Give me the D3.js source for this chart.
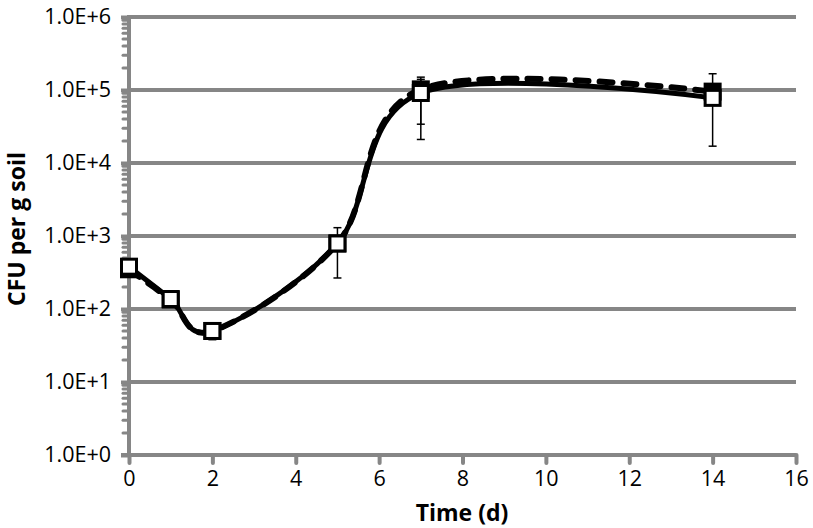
<!DOCTYPE html>
<html>
<head>
<meta charset="utf-8">
<script src="https://cdn.jsdelivr.net/npm/d3@7"></script>
<style>
  html, body { margin: 0; padding: 0; background: #fff; }
  svg { display: block; }
  text { font-family: "Open Sans", "Noto Sans", sans-serif; fill: #000; }
</style>
</head>
<body>
<svg id="chart" width="813" height="528"></svg>
<script>
// ---- data ----
const days = [0, 1, 2, 5, 7, 14];
const seriesOpen = [380, 137, 50, 790, 91000, 78000];      // solid line, open squares
const seriesFilled = [350, 135, 50, 790, 102000, 95000];   // dashed line, filled squares
const errOpenLow  = [null, null, 38, 266, 21000, 17000];
const errOpenHigh = [null, null, null, 1300, 150000, 167000];
const errFilledLow  = [null, null, null, null, 34000, null];
const errFilledHigh = [null, null, null, null, 140000, null];
const yTickValues = [1, 10, 100, 1000, 10000, 100000, 1000000];
const yTickLabels = ["1.0E+0", "1.0E+1", "1.0E+2", "1.0E+3", "1.0E+4", "1.0E+5", "1.0E+6"];
const xTickValues = [0, 2, 4, 6, 8, 10, 12, 14, 16];
const xTitle = "Time (d)";
const yTitle = "CFU per g soil";

// ---- layout ----
const svg = d3.select("#chart");
const pL = 129, pR = 796, pT = 17, pB = 455;
const gray = "#868686";

const x = d3.scaleLinear().domain([0, 16]).range([pL, pR]);
const y = d3.scaleLog().domain([1, 1e6]).range([pB, pT]);

// gridlines
svg.append("g").selectAll("line")
  .data(yTickValues.slice(1))
  .join("line")
  .attr("x1", pL).attr("x2", pR)
  .attr("y1", d => y(d)).attr("y2", d => y(d))
  .attr("stroke", gray).attr("stroke-width", 4);

// minor ticks on y axis
const minor = [];
for (let e = 0; e < 6; e++) for (let m = 2; m <= 9; m++) minor.push(m * Math.pow(10, e));
svg.append("g").selectAll("line")
  .data(minor)
  .join("line")
  .attr("x1", pL - 6).attr("x2", pL)
  .attr("y1", d => y(d)).attr("y2", d => y(d))
  .attr("stroke", gray).attr("stroke-width", 3).attr("stroke-linecap", "round");

// y axis
const yAxis = d3.axisLeft(y).tickValues(yTickValues)
  .tickFormat((d, i) => yTickLabels[i]).tickSize(8).tickPadding(10);
const gy = svg.append("g").attr("transform", `translate(${pL},0)`).call(yAxis);
gy.select(".domain").attr("stroke", gray).attr("stroke-width", 4).attr("d", `M0,${pT - 2}V${pB}`);
gy.selectAll(".tick line").attr("stroke", gray).attr("stroke-width", 4);
gy.selectAll(".tick text").style("font-size", "21.5px").style("font-family", "'Open Sans', sans-serif").attr("fill", "#000");

// x axis
const xAxis = d3.axisBottom(x).tickValues(xTickValues).tickSize(8).tickPadding(8);
const gx = svg.append("g").attr("transform", `translate(0,${pB})`).call(xAxis);
gx.select(".domain").attr("stroke", gray).attr("stroke-width", 4).attr("d", `M${pL - 8},0H${pR}`);
gx.selectAll(".tick line").attr("stroke", gray).attr("stroke-width", 4).attr("stroke-linecap", "round");
gx.selectAll(".tick text").style("font-size", "21.5px").style("font-family", "'Open Sans', sans-serif").attr("fill", "#000");

// titles
svg.append("text").attr("x", 462).attr("y", 521).attr("text-anchor", "middle")
  .style("font-size", "23px").style("font-weight", "bold").text(xTitle);
svg.append("text").attr("transform", "translate(25,229) rotate(-90)").attr("text-anchor", "middle")
  .style("font-size", "23px").style("font-weight", "bold").text(yTitle);

// lines
const line = d3.line().x((d, i) => x(days[i])).y(d => y(d)).curve(d3.curveCardinal.tension(0));
svg.append("path").datum(seriesOpen).attr("d", line)
  .attr("fill", "none").attr("stroke", "#000").attr("stroke-width", 5);
svg.append("path").datum(seriesFilled).attr("d", line)
  .attr("fill", "none").attr("stroke", "#000").attr("stroke-width", 6)
  .attr("stroke-dasharray", "13,11").attr("stroke-linecap", "round");

// error bars
function errBars(lows, highs, vals) {
  const g = svg.append("g").attr("stroke", "#000").attr("stroke-width", 1.5);
  days.forEach((d, i) => {
    const cx = x(d);
    [lows[i], highs[i]].forEach(v => {
      if (v == null) return;
      g.append("line").attr("x1", cx).attr("x2", cx).attr("y1", y(vals[i])).attr("y2", y(v));
      g.append("line").attr("x1", cx - 4).attr("x2", cx + 4).attr("y1", y(v)).attr("y2", y(v));
    });
  });
}
errBars(errFilledLow, errFilledHigh, seriesFilled);
errBars(errOpenLow, errOpenHigh, seriesOpen);

// markers
const s = 18;
svg.append("g").selectAll("rect").data(seriesFilled).join("rect")
  .attr("x", (d, i) => x(days[i]) - s / 2).attr("y", d => y(d) - s / 2)
  .attr("width", s).attr("height", s).attr("fill", "#000");
svg.append("g").selectAll("rect").data(seriesOpen).join("rect")
  .attr("x", (d, i) => x(days[i]) - (s - 3) / 2).attr("y", d => y(d) - (s - 3) / 2)
  .attr("width", s - 3).attr("height", s - 3).attr("fill", "#fff")
  .attr("stroke", "#000").attr("stroke-width", 3);
</script>
</body>
</html>
